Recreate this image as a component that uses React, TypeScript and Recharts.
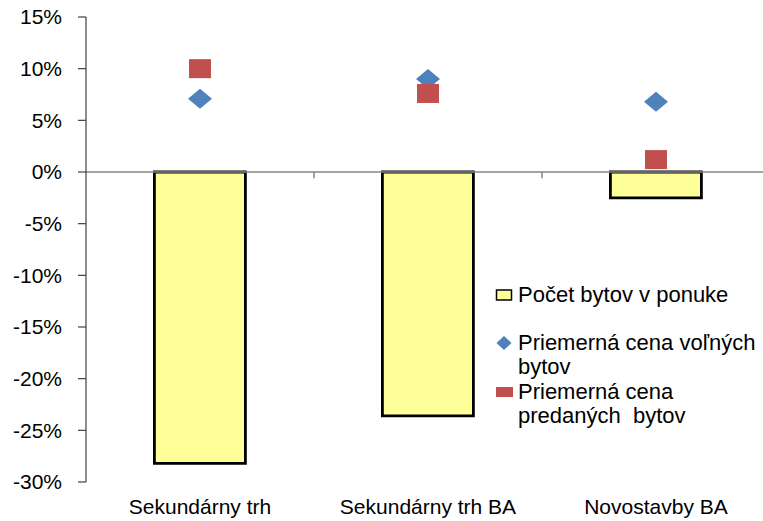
import React from 'react';
import {
  ComposedChart,
  Bar,
  Scatter,
  XAxis,
  YAxis,
  ReferenceLine,
} from 'recharts';

const categories = ['Sekundárny trh', 'Sekundárny trh BA', 'Novostavby BA'];
const offerCount = [-28.2, -23.6, -2.5];
const freeFlatPrice = [7.1, 9.0, 6.8];
const soldFlatPrice = [10.0, 7.6, 1.2];
const yTicks = [-30, -25, -20, -15, -10, -5, 0, 5, 10, 15];

const data = categories.map((name, i) => ({
  name,
  offer: offerCount[i],
  free: freeFlatPrice[i],
  sold: soldFlatPrice[i],
}));

const FONT = '"Liberation Sans", Arial, sans-serif';
const BLUE = '#4F81BD';
const RED = '#C0504D';
const YELLOW = '#FFFF99';
const AXIS_GREY = '#868686';

const Diamond = (props: any) => {
  const { cx, cy } = props;
  if (cx == null || cy == null) return null;
  return (
    <path
      d={`M${cx},${cy - 10} L${cx + 12},${cy} L${cx},${cy + 10} L${cx - 12},${cy} Z`}
      fill={BLUE}
    />
  );
};

const Square = (props: any) => {
  const { cx, cy } = props;
  if (cx == null || cy == null) return null;
  return <rect x={cx - 11} y={cy - 9.5} width={22} height={19} fill={RED} />;
};

const legendText: React.CSSProperties = {
  fontSize: 22,
  lineHeight: '24px',
  color: '#000',
  whiteSpace: 'pre',
};

const row: React.CSSProperties = { display: 'flex', alignItems: 'flex-start' };

// legend sits inside the plot, to the right of the middle bar
const LegendBox = () => (
  <div style={{ position: 'absolute', left: 495, top: 283, fontFamily: FONT }}>
    <div style={row}>
      <svg width={23} height={24}>
        <rect x={1.5} y={7} width={15} height={10} fill={YELLOW} stroke="#000" strokeWidth={1.5} />
      </svg>
      <span style={legendText}>Počet bytov v ponuke</span>
    </div>
    <div style={{ ...row, marginTop: 24 }}>
      <svg width={23} height={24}>
        <path d="M9,5 L16.5,12 L9,19 L1.5,12 Z" fill={BLUE} />
      </svg>
      <span style={legendText}>
        Priemerná cena voľných
        <br />
        bytov
      </span>
    </div>
    <div style={{ ...row, marginTop: 1 }}>
      <svg width={23} height={24}>
        <rect x={1} y={7} width={17} height={10} fill={RED} />
      </svg>
      <span style={legendText}>
        Priemerná cena
        <br />
        predaných  bytov
      </span>
    </div>
  </div>
);

export default function App() {
  return (
    <div
      style={{
        position: 'absolute',
        left: 0,
        top: 0,
        width: 763,
        height: 521,
        overflow: 'hidden',
        background: '#fff',
      }}
    >
      <ComposedChart
        width={780}
        height={521}
        data={data}
        margin={{ top: 17, right: 10, bottom: 0, left: 0 }}
        barCategoryGap="30%"
      >
        <XAxis
          dataKey="name"
          axisLine={false}
          tickLine={false}
          tickSize={0}
          tickMargin={17}
          height={39}
          tick={{ fill: '#000', fontSize: 21, fontFamily: FONT }}
          interval={0}
        />
        <YAxis
          width={86}
          domain={[-30, 15]}
          ticks={yTicks}
          interval={0}
          tickFormatter={(v: number) => `${v}%`}
          tickSize={8}
          tickMargin={16}
          axisLine={{ stroke: '#404040', strokeWidth: 1.2 }}
          tickLine={{ stroke: '#404040', strokeWidth: 1.2 }}
          tick={{ fill: '#000', fontSize: 21, fontFamily: FONT }}
        />
        <ReferenceLine y={0} stroke={AXIS_GREY} strokeWidth={1.5} />
        {categories.slice(0, -1).map((c) => (
          <ReferenceLine
            key={c}
            position="end"
            segment={[{ x: c, y: 0 }, { x: c, y: -0.6 }]}
            stroke={AXIS_GREY}
            strokeWidth={1.5}
          />
        ))}
        <Bar
          dataKey="offer"
          fill={YELLOW}
          stroke="#000"
          strokeWidth={2.8}
          isAnimationActive={false}
        />
        <Scatter dataKey="free" shape={<Diamond />} isAnimationActive={false} />
        <Scatter dataKey="sold" shape={<Square />} isAnimationActive={false} />
      </ComposedChart>
      <LegendBox />
    </div>
  );
}
